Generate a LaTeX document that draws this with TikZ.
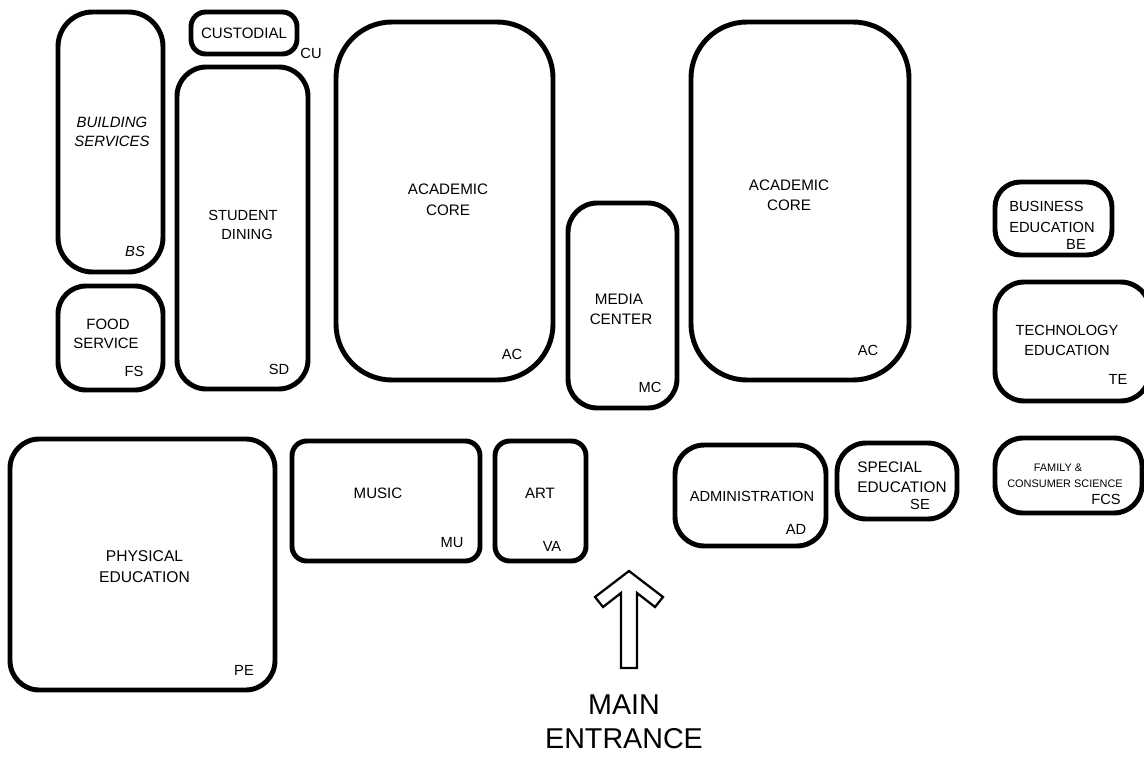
\documentclass[tikz,border=0pt]{standalone}
\usepackage{fontspec}
\setmainfont{Liberation Sans}
\tikzset{
  room/.style={draw=black,line width=3.7pt,fill=white},
  lbl/.style={inner sep=0pt,outer sep=0pt,align=center,text=black,font=\fontsize{11.3pt}{15pt}\selectfont},
  code/.style={inner sep=0pt,outer sep=0pt,text=black,font=\fontsize{11pt}{15pt}\selectfont},
  tiny/.style={inner sep=0pt,outer sep=0pt,align=center,text=black,font=\fontsize{8.2pt}{12.2pt}\selectfont},
  big/.style={inner sep=0pt,outer sep=0pt,align=center,text=black,font=\fontsize{21.5pt}{25.5pt}\selectfont},
}
\begin{document}
\begin{tikzpicture}[x=0.75pt,y=-0.75pt]
\useasboundingbox (0,0) rectangle (1144,756);
\begin{scope}
\clip (0,0) rectangle (1144,756);
\draw[room,rounded corners=26pt] (58,12) rectangle (163,272);
\draw[room,rounded corners=11pt] (191,12) rectangle (297,54);
\draw[room,rounded corners=22pt] (177,67) rectangle (308,389);
\draw[room,rounded corners=21pt] (58,286) rectangle (163,390);
\draw[room,rounded corners=42pt] (336,22) rectangle (553,380);
\draw[room,rounded corners=22pt] (568,203) rectangle (677,408);
\draw[room,rounded corners=42pt] (691,22) rectangle (909,380);
\draw[room,rounded corners=19pt] (995,182) rectangle (1112,255);
\draw[room,rounded corners=22pt] (995,282) rectangle (1150,401);
\draw[room,rounded corners=21pt] (995,438) rectangle (1142,513);
\draw[room,rounded corners=22pt] (10,439) rectangle (275,690);
\draw[room,rounded corners=11pt] (292,441) rectangle (480,561);
\draw[room,rounded corners=11pt] (495,441) rectangle (586,561);
\draw[room,rounded corners=22pt] (675,445) rectangle (826,546);
\draw[room,rounded corners=22pt] (837,443) rectangle (957,519);
\end{scope}
\draw[line width=1.7pt,miter limit=4] (629,571) -- (595,597) -- (603,607) -- (621,593) -- (621,668) -- (637,668) -- (637,593) -- (655,607) -- (663,597) -- cycle;

\node[lbl,font=\fontsize{11.2pt}{13.9pt}\selectfont\itshape] (bs) at (112,132) {BUILDING\\SERVICES};
\node[code,font=\fontsize{11pt}{15pt}\selectfont\itshape] (bsc) at (135,251) {BS};
\node[lbl] (cu) at (244,33) {CUSTODIAL};
\node[code] (cuc) at (311,53) {CU};
\node[lbl,font=\fontsize{11pt}{13.9pt}\selectfont] (sd) at (243,225) {STUDENT\\\hspace*{6pt}DINING};
\node[code] (sdc) at (279,369) {SD};
\node[lbl,font=\fontsize{11.2pt}{14.2pt}\selectfont] (fs) at (106,333.5) {\hspace*{3pt}FOOD\\SERVICE};
\node[code] (fsc) at (134,371) {FS};
\node[lbl,font=\fontsize{11.4pt}{15.4pt}\selectfont] (ac1) at (448,200) {ACADEMIC\\CORE};
\node[code] (ac1c) at (512,354) {AC};
\node[lbl,font=\fontsize{11.4pt}{15.4pt}\selectfont] (mc) at (621,309.5) {\hspace*{-3pt}MEDIA\\CENTER};
\node[code] (mcc) at (650,387) {MC};
\node[lbl,font=\fontsize{11.4pt}{15pt}\selectfont] (ac2) at (789,195) {ACADEMIC\\CORE};
\node[code] (ac2c) at (868,350) {AC};
\node[lbl,font=\fontsize{11pt}{15.4pt}\selectfont,align=left] (be) at (1052,217) {BUSINESS\\EDUCATION};
\node[code] (bec) at (1076,244) {BE};
\node[lbl,font=\fontsize{11pt}{14.6pt}\selectfont] (te) at (1067,340.5) {TECHNOLOGY\\EDUCATION};
\node[code] (tec) at (1118,379) {TE};
\node[tiny] (fcs) at (1065,476) {\hspace*{-10.5pt}FAMILY \&\\CONSUMER SCIENCE};
\node[code] (fcsc) at (1106,499) {FCS};
\node[lbl,font=\fontsize{11.7pt}{15.6pt}\selectfont] (pe) at (144.5,566.5) {PHYSICAL\\EDUCATION};
\node[code] (pec) at (244,670) {PE};
\node[lbl] (mu) at (378,493) {MUSIC};
\node[code] (muc) at (452,543) {MU};
\node[lbl] (va) at (540,493) {ART};
\node[code] (vac) at (552,546) {VA};
\node[lbl,font=\fontsize{11pt}{15pt}\selectfont] (ad) at (752,496) {ADMINISTRATION};
\node[code] (adc) at (796,529) {AD};
\node[lbl,align=left,font=\fontsize{11.5pt}{15pt}\selectfont] (se) at (902,477) {SPECIAL\\EDUCATION};
\node[code] (sec) at (920,504) {SE};
\node[big] (me) at (624,722) {MAIN\\ENTRANCE};
\end{tikzpicture}
\end{document}
